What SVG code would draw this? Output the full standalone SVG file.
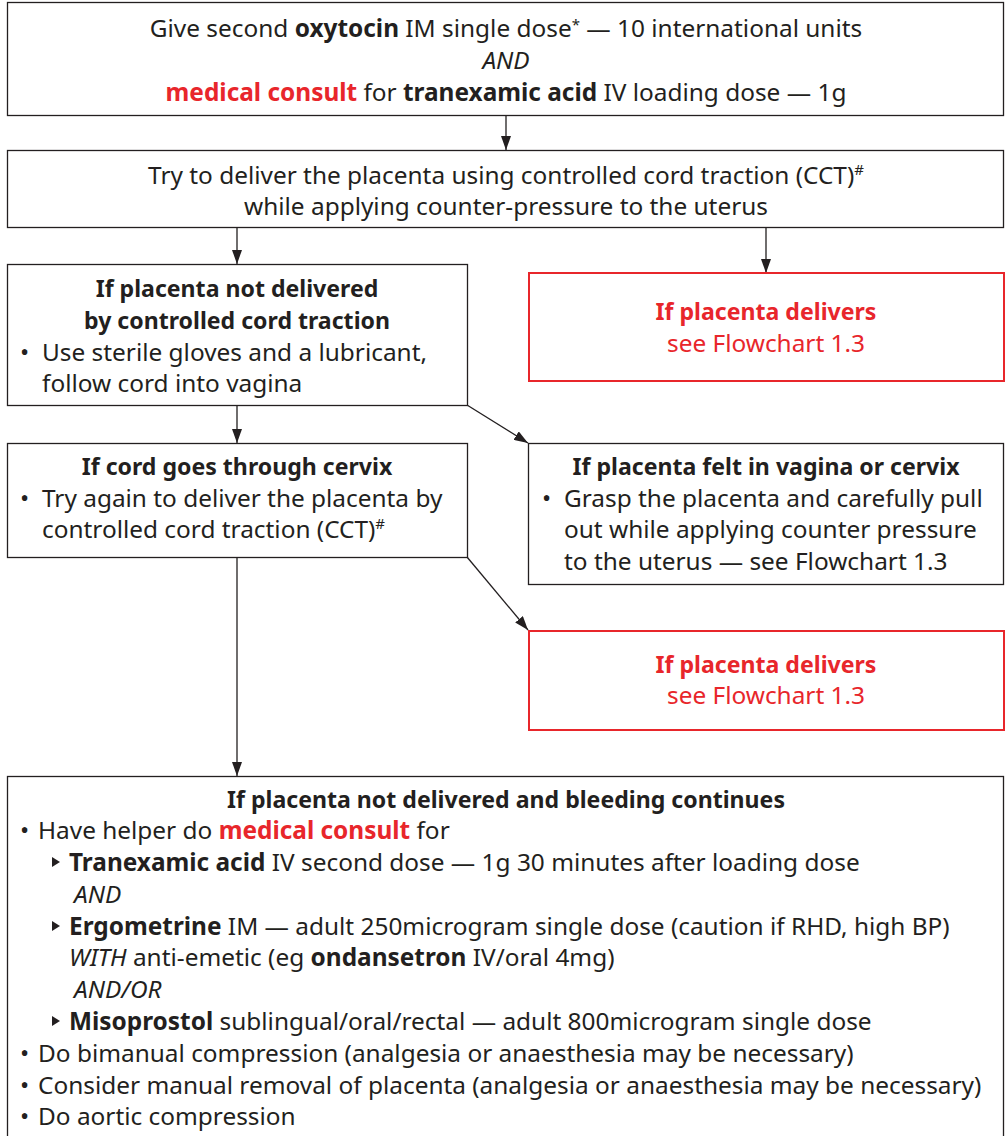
<svg xmlns="http://www.w3.org/2000/svg" width="1005" height="1136" viewBox="0 0 1005 1136">
<style>
text{font-family:"Noto Sans","Open Sans",sans-serif;font-size:24.4px;fill:#231f20}
.c{text-anchor:middle}
.b{font-weight:bold}
.h{font-weight:bold;font-size:23.1px}
.i{font-style:italic}
.r{fill:#e8262b}
.box{fill:#fff;stroke:#231f20;stroke-width:1.3}
.rbox{fill:#fff;stroke:#e8262b;stroke-width:2}
.ln{stroke:#231f20;stroke-width:1.3;fill:none}
.sup{font-size:15px}
</style>
<defs>
<marker id="ah" markerWidth="14" markerHeight="10" refX="14" refY="5" orient="auto" markerUnits="userSpaceOnUse" viewBox="0 0 14 10">
<path d="M0,0 L14,5 L0,10 Z" fill="#231f20"/>
</marker>
</defs>
<rect width="1005" height="1136" fill="#fff"/>
<g id="connectors">
<line class="ln" x1="506" y1="115" x2="506" y2="150" marker-end="url(#ah)"/>
<line class="ln" x1="237" y1="227" x2="237" y2="264" marker-end="url(#ah)"/>
<line class="ln" x1="766" y1="227" x2="766" y2="273" marker-end="url(#ah)"/>
<line class="ln" x1="237" y1="405" x2="237" y2="443" marker-end="url(#ah)"/>
<line class="ln" x1="467" y1="405" x2="528" y2="443" marker-end="url(#ah)"/>
<line class="ln" x1="467" y1="557" x2="528" y2="630" marker-end="url(#ah)"/>
<line class="ln" x1="237" y1="557" x2="237" y2="776" marker-end="url(#ah)"/>
</g>
<g id="n1">
<rect class="box" x="7.5" y="2.5" width="996" height="113"/>
<text class="c" x="506" y="37">Give second <tspan class="b">oxytocin</tspan> IM single dose<tspan class="sup" dy="-7">*</tspan><tspan dy="7"> — 10 international units</tspan></text>
<text class="c i" x="506" y="69">AND</text>
<text class="c" x="506" y="101"><tspan class="r b">medical consult</tspan> for <tspan class="b">tranexamic acid</tspan> IV loading dose — 1g</text>
</g>
<g id="n2">
<rect class="box" x="7.5" y="150.5" width="996" height="77"/>
<text class="c" x="506" y="184">Try to deliver the placenta using controlled cord traction (CCT)<tspan class="sup" dy="-9">#</tspan></text>
<text class="c" x="506" y="215">while applying counter-pressure to the uterus</text>
</g>
<g id="n3">
<rect class="box" x="7.5" y="264.5" width="460" height="141"/>
<text class="c h" x="237" y="297">If placenta not delivered</text>
<text class="c h" x="237" y="329">by controlled cord traction</text>
<text x="20" y="361">•</text>
<text x="42" y="361">Use sterile gloves and a lubricant,</text>
<text x="42" y="392">follow cord into vagina</text>
</g>
<g id="n4">
<rect class="rbox" x="529" y="273" width="475" height="108"/>
<text class="c h r" x="766" y="320">If placenta delivers</text>
<text class="c r" x="766" y="352">see Flowchart 1.3</text>
</g>
<g id="n5">
<rect class="box" x="7.5" y="443.5" width="460" height="114"/>
<text class="c h" x="237" y="475">If cord goes through cervix</text>
<text x="20" y="507">•</text>
<text x="42" y="507">Try again to deliver the placenta by</text>
<text x="42" y="538">controlled cord traction (CCT)<tspan class="sup" dy="-9">#</tspan></text>
</g>
<g id="n6">
<rect class="box" x="528.5" y="443.5" width="475" height="141"/>
<text class="c h" x="766" y="475">If placenta felt in vagina or cervix</text>
<text x="542" y="507">•</text>
<text x="564" y="507">Grasp the placenta and carefully pull</text>
<text x="564" y="538">out while applying counter pressure</text>
<text x="564" y="570">to the uterus — see Flowchart 1.3</text>
</g>
<g id="n7">
<rect class="rbox" x="529" y="631" width="475" height="99"/>
<text class="c h r" x="766" y="673">If placenta delivers</text>
<text class="c r" x="766" y="704">see Flowchart 1.3</text>
</g>
<g id="n8">
<rect class="box" x="7.5" y="776.5" width="996" height="364"/>
<text class="c h" x="506" y="808">If placenta not delivered and bleeding continues</text>
<text x="20" y="839">•</text>
<text x="38" y="839">Have helper do <tspan class="r b">medical consult</tspan> for</text>
<path d="M52,857 L60,862 L52,867 Z" fill="#231f20"/>
<text x="69" y="871"><tspan class="b">Tranexamic acid</tspan> IV second dose — 1g 30 minutes after loading dose</text>
<text class="i" x="74" y="903">AND</text>
<path d="M52,921 L60,926 L52,931 Z" fill="#231f20"/>
<text x="69" y="935"><tspan class="b">Ergometrine</tspan> IM — adult 250microgram single dose (caution if RHD, high BP)</text>
<text x="69" y="966"><tspan class="i">WITH</tspan> anti-emetic (eg <tspan class="b">ondansetron</tspan> IV/oral 4mg)</text>
<text class="i" x="74" y="998">AND/OR</text>
<path d="M52,1016 L60,1021 L52,1026 Z" fill="#231f20"/>
<text x="69" y="1030"><tspan class="b">Misoprostol</tspan> sublingual/oral/rectal — adult 800microgram single dose</text>
<text x="20" y="1062">•</text>
<text x="38" y="1062">Do bimanual compression (analgesia or anaesthesia may be necessary)</text>
<text x="20" y="1094">•</text>
<text x="38" y="1094">Consider manual removal of placenta (analgesia or anaesthesia may be necessary)</text>
<text x="20" y="1125">•</text>
<text x="38" y="1125">Do aortic compression</text>
</g>
</svg>
